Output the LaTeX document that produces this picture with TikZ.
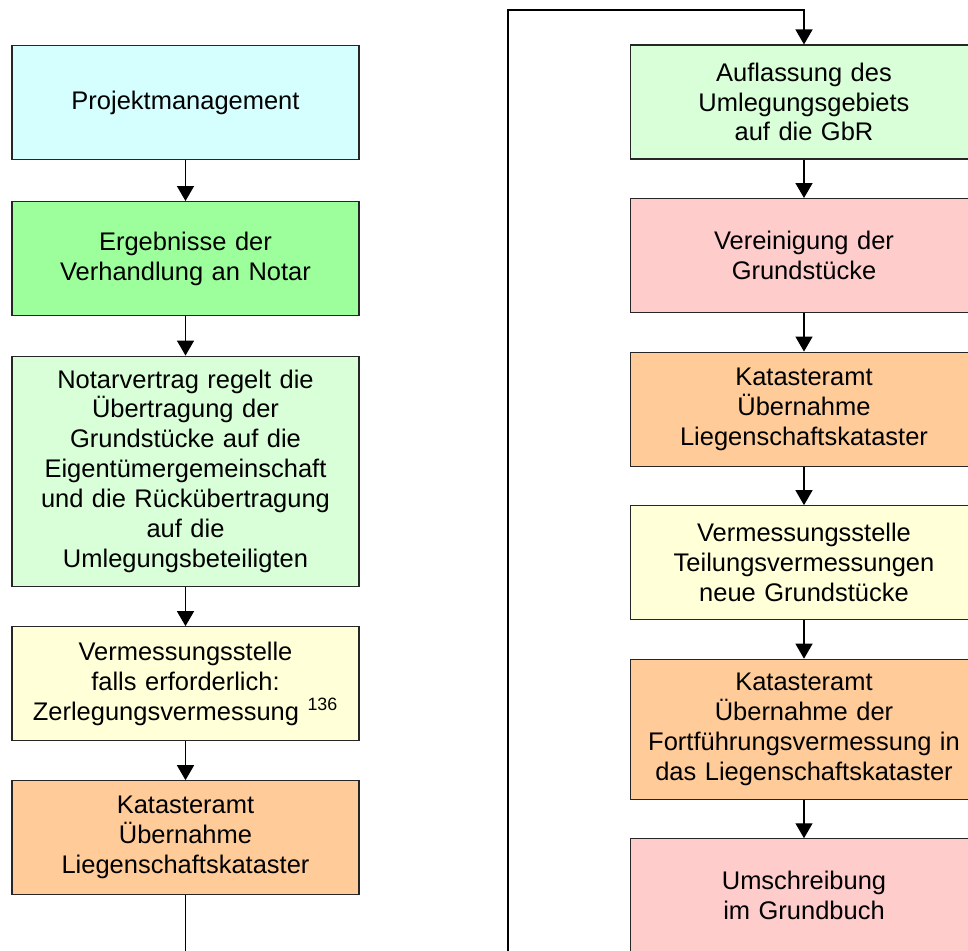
\documentclass[tikz,border=0pt]{standalone}
\usepackage{fontspec}
\setmainfont{Liberation Sans}
\usepackage{xcolor}
\usepackage{tikz}
\usetikzlibrary{positioning, arrows.meta}
\definecolor{pmcyan}{HTML}{D5FFFF}
\definecolor{notargreen}{HTML}{9CFF9C}
\definecolor{palegreen}{HTML}{D8FFD8}
\definecolor{paleyellow}{HTML}{FFFFD8}
\definecolor{kataorange}{HTML}{FFCC99}
\definecolor{grundpink}{HTML}{FFCCCC}
\tikzset{
  stepbox/.style={draw=black!85, line width=0.6pt, fill=white, align=center, text width=66mm, minimum width=69.4mm, minimum height=22.8mm, inner sep=1.5mm, font=\fontsize{14.5}{17}\selectfont},
  arrow/.style={-{Triangle[length=3mm, width=3.4mm]}, line width=0.8pt, draw=black},
}

\begin{document}
\begin{tikzpicture}[node distance=7.7mm]
  \useasboundingbox (0,0) rectangle (19.36,-19.02);
  \clip (0,0) rectangle (19.36,-19.02);

  % left column
  \node[stepbox, fill=pmcyan] (pm) at (3.71,-2.05) {Projektmanagement};
  \node[stepbox, fill=notargreen, below=8.2mm of pm] (erg) {Ergebnisse der\\Verhandlung an Notar};
  \node[stepbox, fill=palegreen, below=7.9mm of erg, minimum height=46mm] (vertrag)
    {Notarvertrag regelt die\\Übertragung der\\Grundstücke auf die\\Eigentümergemeinschaft\\und die Rückübertragung\\auf die\\Umlegungsbeteiligten};
  \node[stepbox, fill=paleyellow, below=7.9mm of vertrag] (zerl)
    {Vermessungsstelle\\falls erforderlich:\\Zerlegungsvermessung~\textsuperscript{136}};
  \node[stepbox, fill=kataorange, below=7.8mm of zerl] (kat1) {Katasteramt\\Übernahme\\Liegenschaftskataster};

  \draw[arrow] (pm) -- (erg);
  \draw[arrow] (erg) -- (vertrag);
  \draw[arrow] (vertrag) -- (zerl);
  \draw[arrow] (zerl) -- (kat1);

  % right column
  \node[stepbox, fill=palegreen] (aufl) at (16.08,-2.04) {Auflassung des\\Umlegungsgebiets\\auf die GbR};
  \node[stepbox, fill=grundpink, below=of aufl] (verein) {Vereinigung der\\Grundstücke};
  \node[stepbox, fill=kataorange, below=of verein] (kat2) {Katasteramt\\Übernahme\\Liegenschaftskataster};
  \node[stepbox, fill=paleyellow, below=of kat2] (teil) {Vermessungsstelle\\Teilungsvermessungen\\neue Grundstücke};
  \node[stepbox, fill=kataorange, below=of teil, minimum height=28mm] (kat3)
    {Katasteramt\\Übernahme der\\Fortführungsvermessung in\\das Liegenschaftskataster};
  \node[stepbox, fill=grundpink, below=of kat3] (umschr) {Umschreibung\\im Grundbuch};

  \draw[arrow] (aufl) -- (verein);
  \draw[arrow] (verein) -- (kat2);
  \draw[arrow] (kat2) -- (teil);
  \draw[arrow] (teil) -- (kat3);
  \draw[arrow] (kat3) -- (umschr);

  % connector from the left column over to the right one
  \coordinate (loopbot) at (10.16,-19.6);
  \coordinate (looptop) at (10.16,-0.2);
  \draw[arrow] (kat1.south) |- (loopbot) -- (looptop) -| (aufl.north);
\end{tikzpicture}
\end{document}
